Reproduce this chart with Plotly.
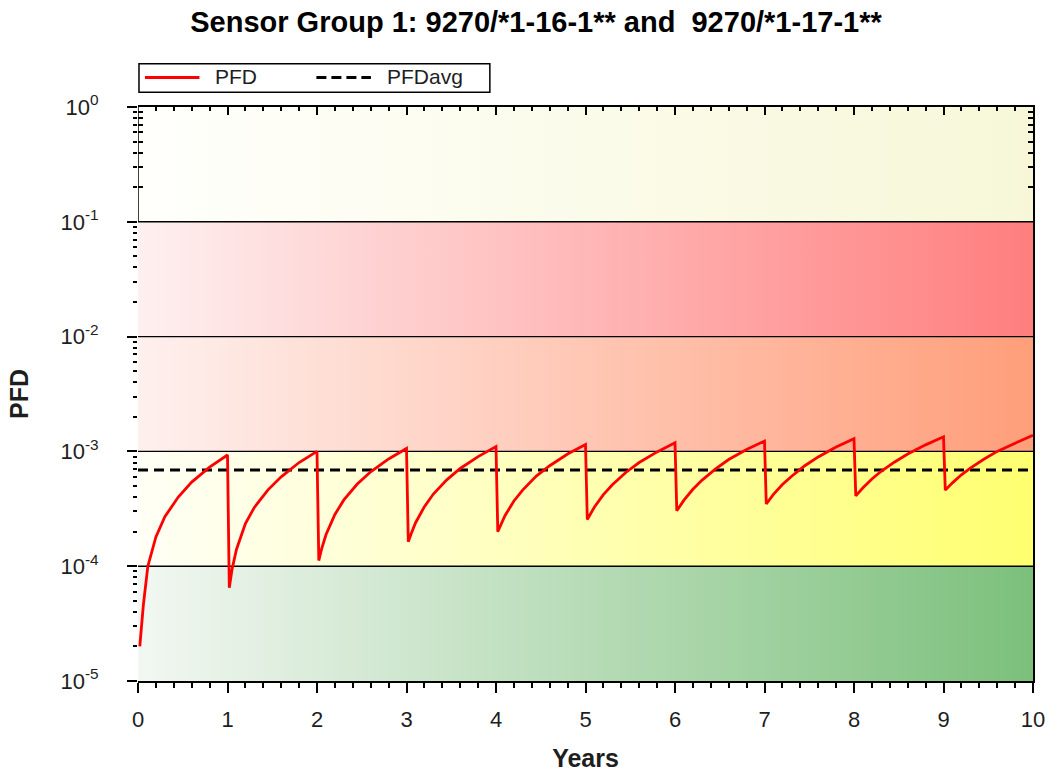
import plotly.graph_objects as go

TITLE = "Sensor Group 1: 9270/*1-16-1** and \u00a09270/*1-17-1**"

# PFD curve (years, value)
years = [0.02, 0.06, 0.11, 0.2, 0.3, 0.45, 0.6, 0.8, 1.0,
         1.02, 1.05, 1.1, 1.2, 1.3, 1.45, 1.6, 1.8, 2.0,
         2.02, 2.05, 2.1, 2.2, 2.3, 2.45, 2.6, 2.8, 3.0,
         3.02, 3.05, 3.1, 3.2, 3.3, 3.45, 3.6, 3.8, 4.0,
         4.02, 4.05, 4.1, 4.2, 4.3, 4.45, 4.6, 4.8, 5.0,
         5.02, 5.05, 5.1, 5.2, 5.3, 5.45, 5.6, 5.8, 6.0,
         6.02, 6.05, 6.1, 6.2, 6.3, 6.45, 6.6, 6.8, 7.0,
         7.02, 7.05, 7.1, 7.2, 7.3, 7.45, 7.6, 7.8, 8.0,
         8.02, 8.05, 8.1, 8.2, 8.3, 8.45, 8.6, 8.8, 9.0,
         9.02, 9.05, 9.1, 9.2, 9.3, 9.45, 9.6, 9.8, 10.0]
pfd = [2.0e-5, 4.6e-5, 1.0e-4, 1.8e-4, 2.7e-4, 4.0e-4, 5.4e-4, 7.3e-4, 9.3e-4,
       6.5e-5, 9.3e-5, 1.4e-4, 2.35e-4, 3.25e-4, 4.6e-4, 6.0e-4, 8.0e-4, 1.0e-3,
       1.12e-4, 1.4e-4, 1.88e-4, 2.82e-4, 3.78e-4, 5.2e-4, 6.65e-4, 8.6e-4, 1.06e-3,
       1.63e-4, 1.9e-4, 2.38e-4, 3.3e-4, 4.25e-4, 5.65e-4, 7.1e-4, 9.0e-4, 1.1e-3,
       2.0e-4, 2.28e-4, 2.75e-4, 3.7e-4, 4.62e-4, 6.1e-4, 7.5e-4, 9.5e-4, 1.15e-3,
       2.55e-4, 2.82e-4, 3.28e-4, 4.2e-4, 5.12e-4, 6.55e-4, 8.0e-4, 9.9e-4, 1.19e-3,
       3.04e-4, 3.3e-4, 3.76e-4, 4.68e-4, 5.6e-4, 7.0e-4, 8.5e-4, 1.04e-3, 1.23e-3,
       3.48e-4, 3.76e-4, 4.22e-4, 5.15e-4, 6.05e-4, 7.5e-4, 8.95e-4, 1.09e-3, 1.29e-3,
       4.1e-4, 4.37e-4, 4.82e-4, 5.75e-4, 6.68e-4, 8.05e-4, 9.5e-4, 1.14e-3, 1.34e-3,
       4.6e-4, 4.87e-4, 5.32e-4, 6.25e-4, 7.15e-4, 8.55e-4, 1.0e-3, 1.18e-3, 1.38e-3]

pfd_avg = 6.9e-4
x_range = [0, 10]

# Risk bands (decades) and their gradient colours (left -> right)
band_lo = [1e-5, 1e-4, 1e-3, 1e-2, 1e-1]
band_hi = [1e-4, 1e-3, 1e-2, 1e-1, 1e0]
band_left = ["rgb(242,247,242)", "rgb(255,255,246)", "rgb(254,240,238)", "rgb(254,240,240)", "rgb(255,255,252)"]
band_right = ["rgb(124,192,124)", "rgb(255,255,112)", "rgb(255,158,122)", "rgb(255,126,126)", "rgb(247,247,216)"]
decade_lines = [1e-4, 1e-3, 1e-2, 1e-1]

y_tickvals = [1e-5, 1e-4, 1e-3, 1e-2, 1e-1, 1e0]
y_ticktext = ["10<sup>-5</sup>", "10<sup>-4</sup>", "10<sup>-3</sup>", "10<sup>-2</sup>",
              "10<sup>-1</sup>", "10<sup>0</sup>"]

legend_names = ["PFD", "PFDavg"]

minor_y = [m * 10.0 ** e for e in range(-5, 0) for m in range(2, 10)]
top_minor_y = [m * 0.1 for m in range(2, 10)]

FONT = "Liberation Sans, Arial, sans-serif"
TXT = "#1e1e1e"

W, H = 1057, 780
L, R, T, B = 138, 16, 107, 88
PW, PH = W - L - R, H - T - B


def px(xs):   # screen x -> paper x
    return (xs - L) / PW


def py(ys):   # screen y -> paper y
    return (H - B - ys) / PH


fig = go.Figure()

for lo, hi, cl, cr in zip(band_lo, band_hi, band_left, band_right):
    fig.add_trace(go.Scatter(
        x=[x_range[0], x_range[1], x_range[1], x_range[0], x_range[0]],
        y=[lo, lo, hi, hi, lo],
        mode="lines", line=dict(width=0), fill="toself",
        fillgradient=dict(type="horizontal", colorscale=[[0, cl], [1, cr]]),
        showlegend=False, hoverinfo="skip"))

for d in decade_lines:
    fig.add_trace(go.Scatter(x=x_range, y=[d, d], mode="lines",
                             line=dict(color="black", width=1.4),
                             showlegend=False, hoverinfo="skip", cliponaxis=False))

# left axis line only in the top decade
fig.add_trace(go.Scatter(x=[0, 0], y=[1e-1, 1e0], mode="lines",
                         line=dict(color="black", width=1.5),
                         showlegend=False, hoverinfo="skip", cliponaxis=False))

fig.add_trace(go.Scatter(x=x_range, y=[pfd_avg, pfd_avg], mode="lines", name=legend_names[1],
                         line=dict(color="black", width=3, dash="10px,6px"), showlegend=False))
fig.add_trace(go.Scatter(x=years, y=pfd, mode="lines", name=legend_names[0],
                         line=dict(color="#ff0000", width=2.8), showlegend=False))

# dummy traces for the decorative overlay axes
fig.add_trace(go.Scatter(x=[None], y=[None], xaxis="x2", yaxis="y2", showlegend=False, hoverinfo="skip"))
fig.add_trace(go.Scatter(x=[None], y=[None], xaxis="x", yaxis="y3", showlegend=False, hoverinfo="skip"))

# hand-drawn legend box (long line samples, like the reference)
shapes = [
    dict(type="rect", xref="paper", yref="paper", x0=px(139), x1=px(493), y0=py(92), y1=py(63),
         line=dict(color="black", width=1.5), fillcolor="white", layer="above"),
    dict(type="line", xref="paper", yref="paper", x0=px(145), x1=px(200), y0=py(77), y1=py(77),
         line=dict(color="#ff0000", width=3), layer="above"),
    dict(type="line", xref="paper", yref="paper", x0=px(318), x1=px(373), y0=py(77), y1=py(77),
         line=dict(color="black", width=3, dash="10px,5px"), layer="above"),
]
annotations = [
    dict(text=legend_names[0], xref="paper", yref="paper", x=px(214), y=py(76),
         xanchor="left", yanchor="middle", showarrow=False,
         font=dict(family=FONT, size=21, color=TXT)),
    dict(text=legend_names[1], xref="paper", yref="paper", x=px(387), y=py(76),
         xanchor="left", yanchor="middle", showarrow=False,
         font=dict(family=FONT, size=21, color=TXT)),
]

fig.update_layout(
    width=W, height=H,
    margin=dict(l=L, r=R, t=T, b=B),
    paper_bgcolor="white", plot_bgcolor="white",
    font=dict(family=FONT, color=TXT),
    showlegend=False,
    shapes=shapes, annotations=annotations,
    title=dict(text="<b>" + TITLE + "</b>", x=536 / W, xref="container", xanchor="center",
               y=1 - 22 / H, yref="container", yanchor="middle",
               font=dict(family=FONT, size=29, color="black")),
    xaxis=dict(range=x_range, tickmode="linear", tick0=0, dtick=1,
               ticks="outside", ticklen=10, tickwidth=1.5, tickcolor="black",
               showline=True, linecolor="black", linewidth=1.5,
               showgrid=False, zeroline=False,
               minor=dict(dtick=0.2, ticks="outside", ticklen=5, tickwidth=1.5, tickcolor="black", showgrid=False),
               tickfont=dict(family=FONT, size=22, color=TXT),
               ticklabelstandoff=8,
               title=dict(text="<b>Years</b>", standoff=18, font=dict(family=FONT, size=25, color=TXT))),
    yaxis=dict(type="log", range=[-5, 0], tickmode="array", tickvals=y_tickvals, ticktext=y_ticktext,
               ticks="outside", ticklen=10, tickwidth=1.5, tickcolor="black",
               showline=False, showgrid=False, zeroline=False,
               minor=dict(tickmode="array", tickvals=minor_y, ticks="outside", ticklen=4,
                          tickwidth=1.5, tickcolor="black", showgrid=False),
               tickfont=dict(family=FONT, size=22, color=TXT),
               ticklabelstandoff=24,
               title=dict(text="<b>PFD</b>", standoff=24, font=dict(family=FONT, size=25, color=TXT))),
    xaxis2=dict(overlaying="x", side="top", anchor="y", range=x_range, tickmode="linear", tick0=0, dtick=1,
                ticks="inside", ticklen=8, tickwidth=1.5, tickcolor="black",
                minor=dict(dtick=0.2, ticks="inside", ticklen=4, tickwidth=1.5, tickcolor="black"),
                showticklabels=False, showline=True, linecolor="black", linewidth=1.5,
                showgrid=False, zeroline=False),
    yaxis2=dict(overlaying="y", side="right", anchor="x", type="log", range=[-5, 0],
                tickmode="array", tickvals=top_minor_y, ticks="inside", ticklen=5,
                tickwidth=1.5, tickcolor="black",
                showticklabels=False, showline=True, linecolor="black", linewidth=1.5,
                showgrid=False, zeroline=False),
    yaxis3=dict(overlaying="y", side="left", anchor="x", type="log", range=[-5, 0],
                tickmode="array", tickvals=top_minor_y, ticks="inside", ticklen=5,
                tickwidth=1.5, tickcolor="black",
                showticklabels=False, showline=False, showgrid=False, zeroline=False),
)

fig.write_html(
    "out.html",
    config={"displayModeBar": False},
    post_script="document.body.style.margin='0px';document.body.style.padding='0px';"
                "document.body.style.overflow='hidden';",
)
